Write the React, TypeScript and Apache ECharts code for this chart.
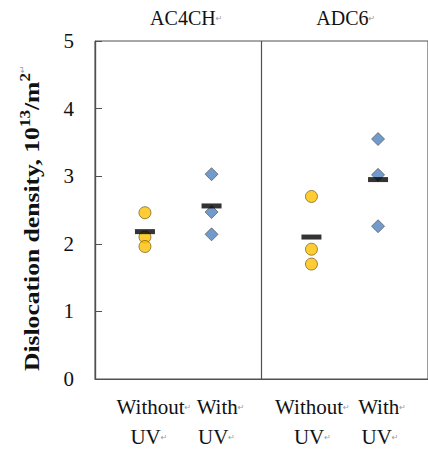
import React, { useEffect, useRef } from "react";
import * as echarts from "echarts";

// Data
const groups = ["AC4CH", "ADC6"];
const groupCenters = [1, 3];
const conditionLabels = ["Without", "With", "Without", "With"];
const conditionPos = [0.6, 1.4, 2.6, 3.4];
const ac4chWithout = [2.46, 2.1, 1.96];
const ac4chWith = [3.03, 2.47, 2.14];
const adc6Without = [2.7, 1.92, 1.7];
const adc6With = [3.55, 3.02, 2.26];
const means = [2.18, 2.56, 2.1, 2.95];
const yTicks = [0, 1, 2, 3, 4, 5];
const yTitle = "{b|Dislocation density, 10}{s|13}{b|/m}{s|2}{r|↵}";

const SERIF = "'Liberation Serif', 'Times New Roman', serif";

export default function App() {
  const ref = useRef<HTMLDivElement>(null);
  useEffect(() => {
    if (!ref.current) return;
    const chart = echarts.init(ref.current, null, { renderer: "svg" });
    const toPts = (x: number, vals: number[]) => vals.map((v) => [x, v]);
    const circleStyle = { color: "#FFC000", borderColor: "#5b4a10", borderWidth: 0.8 };
    const diamondStyle = { color: "#4F81BD", borderColor: "#4a4a4a", borderWidth: 0.8 };
    const ret = { fontFamily: "'DejaVu Sans', sans-serif", fontSize: 8, color: "#999" };
    // horizontal nudges for label text (first group's labels sit right of the marks)
    const line1Shift = [18, 18, 2, 8];
    const line2Shift = [8, 10, 2, 4];
    const labelRich = {
      t: { fontFamily: SERIF, fontSize: 21, color: "#111", lineHeight: 30 },
      r: { ...ret, lineHeight: 30 },
      sp18: { width: 18, lineHeight: 30 },
      sp10: { width: 10, lineHeight: 30 },
      sp8: { width: 8, lineHeight: 30 },
      sp4: { width: 4, lineHeight: 30 },
      sp2: { width: 2, lineHeight: 30 },
    };
    const fmt = (v: number) => {
      const i = conditionPos.findIndex((p) => Math.abs(p - v) < 1e-6);
      if (i < 0) return "";
      return `{sp${line1Shift[i]}|}{t|${conditionLabels[i]}}{r|↵}\n{sp${line2Shift[i]}|}{t|UV}{r|↵}`;
    };
    const evenPos = conditionPos.filter((_, i) => i % 2 === 0);
    const oddPos = conditionPos.filter((_, i) => i % 2 === 1);
    chart.setOption({
      animation: false,
      grid: {
        left: 95,
        top: 41,
        width: 336,
        height: 338,
        show: true,
        borderColor: "#505050",
        borderWidth: 1,
      },
      graphic: [
        {
          type: "text",
          x: 30,
          y: 218,
          rotation: Math.PI / 2,
          scaleX: 1.22,
          style: {
            text: yTitle,
            align: "center",
            verticalAlign: "middle",
            rich: {
              b: { fontFamily: SERIF, fontWeight: "bold", fontSize: 21, fill: "#111", lineHeight: 24, verticalAlign: "bottom" },
              s: { fontFamily: SERIF, fontWeight: "bold", fontSize: 14, fill: "#111", lineHeight: 24, verticalAlign: "top" },
              r: { fontFamily: "'DejaVu Sans', sans-serif", fontSize: 8, fill: "#999", lineHeight: 24, verticalAlign: "top" },
            },
          },
        },
      ],
      xAxis: [
        {
          type: "value",
          min: 0,
          max: 4,
          interval: 2,
          position: "bottom",
          axisLine: { show: true, lineStyle: { color: "#505050", width: 1.2 } },
          axisTick: { show: false },
          splitLine: { show: true, lineStyle: { color: "#505050", width: 1.2 } },
          axisLabel: {
            customValues: evenPos,
            showMinLabel: true,
            showMaxLabel: true,
            margin: 13,
            formatter: fmt,
            rich: labelRich,
          },
        },
        {
          type: "value",
          min: 0,
          max: 4,
          interval: 2,
          position: "top",
          axisLine: { show: false },
          axisTick: { show: false },
          splitLine: { show: false },
          axisLabel: {
            customValues: groupCenters,
            showMinLabel: true,
            showMaxLabel: true,
            margin: 13,
            formatter: (v: number) => {
              const i = groupCenters.indexOf(v);
              if (i < 0) return "";
              return `{${i === 0 ? "sp18" : "sp2"}|}{t|${groups[i]}}{r|↵}`;
            },
            rich: {
              t: { fontFamily: SERIF, fontSize: 20, color: "#111" },
              r: ret,
              sp18: { width: 16 },
              sp2: { width: 2 },
            },
          },
        },
        {
          type: "value",
          min: 0,
          max: 4,
          interval: 2,
          position: "bottom",
          offset: 0,
          axisLine: { show: false },
          axisTick: { show: false },
          splitLine: { show: false },
          axisLabel: {
            customValues: oddPos,
            showMinLabel: true,
            showMaxLabel: true,
            margin: 13,
            formatter: fmt,
            rich: labelRich,
          },
        },
      ],
      yAxis: {
        type: "value",
        min: yTicks[0],
        max: yTicks[yTicks.length - 1],
        interval: 1,
        axisLine: { show: true, lineStyle: { color: "#505050", width: 1.2 } },
        axisTick: { show: true, inside: true, length: 7, lineStyle: { color: "#505050" } },
        splitLine: { show: false },
        axisLabel: {
          fontFamily: SERIF,
          fontSize: 21,
          color: "#111",
          margin: 21,
        },
      },
      series: [
        { type: "scatter", symbol: "circle", symbolSize: 12, itemStyle: circleStyle, data: toPts(conditionPos[0], ac4chWithout) },
        { type: "scatter", symbol: "diamond", symbolSize: [13, 13], itemStyle: diamondStyle, data: toPts(conditionPos[1], ac4chWith) },
        { type: "scatter", symbol: "circle", symbolSize: 12, itemStyle: circleStyle, data: toPts(conditionPos[2], adc6Without) },
        { type: "scatter", symbol: "diamond", symbolSize: [13, 13], itemStyle: diamondStyle, data: toPts(conditionPos[3], adc6With) },
        {
          type: "scatter",
          symbol: "rect",
          symbolSize: [20, 5],
          itemStyle: { color: "#000" },
          data: means.map((m, i) => [conditionPos[i], m]),
          z: 5,
        },
      ],
    });
    return () => chart.dispose();
  }, []);
  return (
    <div
      ref={ref}
      style={{ position: "fixed", left: 0, top: 0, width: 428, height: 456, background: "#fff" }}
    />
  );
}
